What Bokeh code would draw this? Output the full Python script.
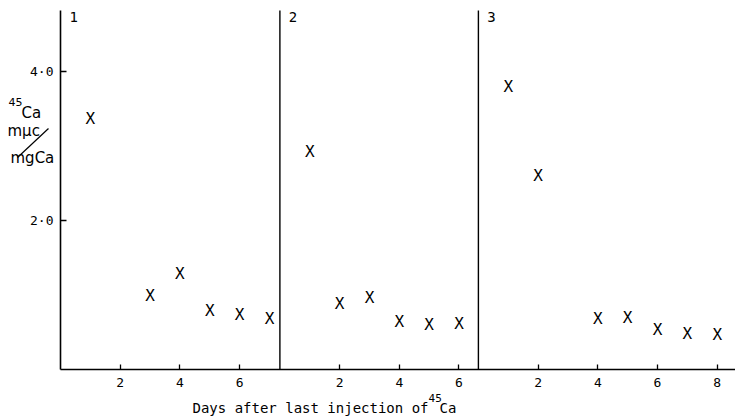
from bokeh.plotting import figure
from bokeh.models import Range1d, FixedTicker, Label, Arrow, ColumnDataSource
from bokeh.core.properties import value
from bokeh.embed import file_html
from bokeh.resources import INLINE

# ---- data ----
panel_names = ["1", "2", "3"]
days_1 = [1, 3, 4, 5, 6, 7]
ca_1 = [3.37, 0.99, 1.29, 0.79, 0.73, 0.68]
days_2 = [1, 2, 3, 4, 5, 6]
ca_2 = [2.93, 0.88, 0.97, 0.645, 0.60, 0.61]
days_3 = [1, 2, 4, 5, 6, 7, 8]
ca_3 = [3.80, 2.60, 0.68, 0.69, 0.53, 0.48, 0.47]
x_ticks_1 = [2, 4, 6]
x_ticks_2 = [2, 4, 6]
x_ticks_3 = [2, 4, 6, 8]
y_ticks = [2.0, 4.0]
y_tick_labels = ["2·0", "4·0"]
x_title = "Days after last injection of"
iso_mass = "45"
iso_elem = "Ca"
y_title_unit = "mμc"
y_title_per = "mgCa"

# ---- layout ----
MONO = "DejaVu Sans Mono"
SANS = "DejaVu Sans"
panel_offsets = [0.0, 7.35, 14.0]   # where each panel's day 0 sits on the shared axis
panels = [(days_1, ca_1, x_ticks_1), (days_2, ca_2, x_ticks_2), (days_3, ca_3, x_ticks_3)]
Y_TOP = 4.82

p = figure(width=735, height=419, output_backend="svg", toolbar_location=None,
           x_range=Range1d(-2.0101, 22.613), y_range=Range1d(-0.676, 4.956),
           min_border_left=0, min_border_right=0, min_border_top=0, min_border_bottom=0)
p.outline_line_color = None
p.xgrid.visible = False
p.ygrid.visible = False
p.background_fill_color = "white"
p.border_fill_color = "white"

tick_pos = []
overrides = {}
for off, (days, vals, ticks) in zip(panel_offsets, panels):
    src = ColumnDataSource(dict(x=[off + d for d in days], y=vals, t=["X"] * len(days)))
    p.text(x="x", y="y", text="t", source=src, text_align="center", text_baseline="middle",
           text_font=value(MONO), text_font_size="16px", text_color="black")
    for t in ticks:
        tick_pos.append(off + t)
        overrides[off + t] = str(t)

# panel dividers and panel numbers
div_x = [off for off in panel_offsets if off > 0]
p.segment(x0=div_x, y0=[0] * len(div_x), x1=div_x, y1=[Y_TOP] * len(div_x),
          line_color="black", line_width=1.4)
for off, name in zip(panel_offsets, panel_names):
    p.add_layout(Label(x=off + 0.3, y=4.74, text=name, text_align="left", text_baseline="middle",
                       text_font=MONO, text_font_size="14px", text_color="black"))

# axes (drawn at fixed data locations so the frame fills the canvas)
xa = p.xaxis[0]
xa.fixed_location = 0
xa.bounds = (0, 22.613)
xa.ticker = FixedTicker(ticks=tick_pos)
xa.major_label_overrides = overrides
xa.minor_tick_line_color = None
xa.major_tick_in = 5
xa.major_tick_out = 0
xa.major_label_standoff = 9
xa.axis_line_width = 1.6
xa.major_tick_line_width = 1.3
xa.major_label_text_font = MONO
xa.major_label_text_font_size = "13px"
xa.major_label_text_color = "black"

ya = p.yaxis[0]
ya.fixed_location = 0
ya.bounds = (0, Y_TOP)
ya.ticker = FixedTicker(ticks=y_ticks)
ya.major_label_overrides = {t: l for t, l in zip(y_ticks, y_tick_labels)}
ya.minor_tick_line_color = None
ya.major_tick_in = 6
ya.major_tick_out = 0
ya.major_label_standoff = 7
ya.axis_line_width = 1.6
ya.major_tick_line_width = 1.3
ya.major_label_text_font = MONO
ya.major_label_text_font_size = "13px"
ya.major_label_text_color = "black"

# x title with superscript mass number
p.add_layout(Label(x=4.422, y=-0.515, text=x_title, text_align="left", text_baseline="middle",
                   text_font=MONO, text_font_size="14px", text_color="black"))
p.add_layout(Label(x=12.33, y=-0.393, text=iso_mass, text_align="left", text_baseline="middle",
                   text_font=MONO, text_font_size="11px", text_color="black"))
p.add_layout(Label(x=12.70, y=-0.515, text=iso_elem, text_align="left", text_baseline="middle",
                   text_font=MONO, text_font_size="14px", text_color="black"))

# y title: 45Ca  mμc / mgCa
p.add_layout(Label(x=-1.742, y=3.598, text=iso_mass, text_align="left", text_baseline="middle",
                   text_font=SANS, text_font_size="11px", text_color="black"))
p.add_layout(Label(x=-1.307, y=3.449, text=iso_elem, text_align="left", text_baseline="middle",
                   text_font=SANS, text_font_size="15px", text_color="black"))
p.add_layout(Label(x=-1.776, y=3.20, text=y_title_unit, text_align="left", text_baseline="middle",
                   text_font=SANS, text_font_size="15px", text_color="black"))
p.add_layout(Label(x=-1.675, y=2.844, text=y_title_per, text_align="left", text_baseline="middle",
                   text_font=SANS, text_font_size="15px", text_color="black"))
p.add_layout(Arrow(end=None, x_start=-1.4405, y_start=2.845, x_end=-0.402, y_end=3.235,
                   line_color="black", line_width=1.2))

open("out.html", "w").write(file_html(p, INLINE))
